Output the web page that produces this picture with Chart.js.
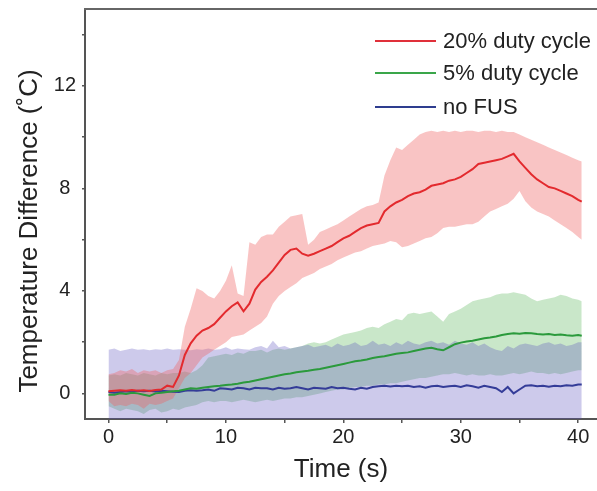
<!DOCTYPE html>
<html>
<head>
<meta charset="utf-8">
<script src="https://cdn.jsdelivr.net/npm/chart.js@4.4.1/dist/chart.umd.min.js"></script>
<style>
  html, body { margin: 0; padding: 0; background: #fff; }
  #wrap { position: relative; width: 597px; height: 491px; }
  .legend-row {
    position: absolute; left: 375px; height: 24px;
    display: flex; align-items: center;
    font: 22px "Liberation Sans", Arial, sans-serif; color: #222; white-space: nowrap;
  }
  .legend-row .swatch { display: inline-block; width: 61px; height: 2px; margin-right: 7px; }
</style>
</head>
<body>
<div id="wrap">
  <canvas id="chart" width="597" height="491"></canvas>
  <div class="legend-row" style="top:29px"><span class="swatch" style="background:#e0303a"></span>20% duty cycle</div>
  <div class="legend-row" style="top:61px"><span class="swatch" style="background:#3aa64a"></span>5% duty cycle</div>
  <div class="legend-row" style="top:95px"><span class="swatch" style="background:#2e3d8f"></span>no FUS</div>
</div>
<script>
// time axis (s)
const times = [
  0, 0.5, 1, 1.5, 2, 2.5, 3, 3.5, 4, 4.5,
  5, 5.5, 6, 6.5, 7, 7.5, 8, 8.5, 9, 9.5,
  10, 10.5, 11, 11.5, 12, 12.5, 13, 13.5, 14, 14.5,
  15, 15.5, 16, 16.5, 17, 17.5, 18, 18.5, 19, 19.5,
  20, 20.5, 21, 21.5, 22, 22.5, 23, 23.5, 24, 24.5,
  25, 25.5, 26, 26.5, 27, 27.5, 28, 28.5, 29, 29.5,
  30, 30.5, 31, 31.5, 32, 32.5, 33, 33.5, 34, 34.5,
  35, 35.5, 36, 36.5, 37, 37.5, 38, 38.5, 39, 39.5,
  40, 40.3
];

// 20% duty cycle
const redMean = [
  0.08, 0.1, 0.12, 0.1, 0.13, 0.1, 0.12, 0.09, 0.13, 0.15,
  0.3, 0.25, 0.7, 1.5, 1.95, 2.25, 2.45, 2.55, 2.7, 2.95,
  3.2, 3.4, 3.55, 3.2, 3.5, 4.05, 4.35, 4.55, 4.8, 5.1,
  5.4, 5.6, 5.65, 5.45, 5.37, 5.45, 5.55, 5.65, 5.75, 5.9,
  6.05, 6.15, 6.3, 6.45, 6.55, 6.6, 6.65, 7.1, 7.3, 7.45,
  7.55, 7.7, 7.8, 7.85, 7.95, 8.1, 8.15, 8.2, 8.3, 8.35,
  8.45, 8.6, 8.75, 8.95, 9.0, 9.05, 9.1, 9.15, 9.25, 9.35,
  9.05, 8.8, 8.55, 8.35, 8.2, 8.05, 8.0, 7.9, 7.8, 7.7,
  7.55, 7.48
];
const redHi = [
  0.75, 0.8, 0.9, 0.85, 0.95, 0.8, 0.9, 0.85, 0.9, 0.8,
  0.9, 0.95, 1.3, 2.6, 3.3, 4.1, 4.0, 3.8, 3.7, 4.0,
  4.4, 5.0, 3.9, 3.8, 5.9, 5.8, 6.1, 6.2, 6.2, 6.5,
  6.7, 6.9, 6.95, 7.0, 5.8, 6.0, 6.3, 6.4, 6.5, 6.6,
  6.75, 6.9, 7.05, 7.2, 7.3, 7.35, 7.45, 8.5, 9.1, 9.6,
  9.5, 9.7, 9.9, 10.1, 10.2, 10.25, 10.2, 10.25, 10.2, 10.25,
  10.2, 10.25, 10.25, 10.2, 10.25, 10.25, 10.2, 10.25, 10.2, 10.2,
  10.1, 10.0, 9.9, 9.8, 9.7, 9.6, 9.5, 9.4, 9.3, 9.2,
  9.1, 9.05
];
const redLo = [
  -0.3, -0.5, -0.45, -0.5, -0.4, -0.45, -0.6, -0.4, -0.45, -0.4,
  -0.3, -0.2, 0.2, 0.6, 0.8, 1.1, 1.4, 1.55, 1.7, 1.85,
  2.0, 2.2, 2.25, 2.3, 2.45, 2.6, 2.75, 3.0, 3.5, 3.8,
  4.0, 4.15, 4.3, 4.5, 4.6, 4.7, 4.85, 4.95, 5.05, 5.2,
  5.3, 5.4, 5.5, 5.55, 5.65, 5.75, 5.8, 5.85, 5.95, 5.9,
  5.7, 5.75, 5.85, 5.95, 6.05, 6.1, 6.25, 6.45, 6.5, 6.5,
  6.55, 6.6, 6.6, 6.7, 6.9, 7.1, 7.2, 7.3, 7.4, 7.6,
  7.9, 7.5, 7.25, 7.1, 7.0, 6.9, 6.75, 6.6, 6.45, 6.3,
  6.1, 6.0
];

// 5% duty cycle
const greenMean = [
  -0.05, -0.05, 0.0, -0.02, 0.02, 0.0, -0.05, -0.1, 0.0, 0.02,
  0.05, 0.08, 0.1, 0.15, 0.2, 0.18, 0.22, 0.25, 0.28, 0.3,
  0.33, 0.35, 0.38, 0.42, 0.45, 0.5, 0.55, 0.6, 0.65, 0.7,
  0.75, 0.78, 0.82, 0.85, 0.88, 0.92, 0.95, 1.0, 1.05, 1.1,
  1.15, 1.2, 1.25, 1.28, 1.32, 1.38, 1.42, 1.45, 1.5, 1.55,
  1.58, 1.6, 1.65, 1.7, 1.75, 1.78, 1.72, 1.68, 1.8, 1.92,
  1.98, 2.02, 2.05, 2.1, 2.15, 2.18, 2.22, 2.28, 2.32, 2.35,
  2.33, 2.36, 2.35, 2.32, 2.3, 2.32, 2.28, 2.3, 2.27, 2.25,
  2.28, 2.25
];
const greenHi = [
  0.7, 0.75, 0.7, 0.8, 0.75, 0.7, 0.8, 0.75, 0.7, 0.8,
  0.75, 0.8, 0.8, 0.85, 0.8, 0.9, 1.1, 1.4, 1.45, 1.5,
  1.55, 1.5, 1.6, 1.55, 1.65, 1.65, 1.7, 1.6, 1.7, 1.75,
  1.7, 1.75, 1.8, 1.85, 1.95, 2.0, 1.95, 2.0, 2.1, 2.2,
  2.3, 2.35, 2.4, 2.45, 2.55, 2.6, 2.55, 2.7, 2.8, 2.9,
  2.85, 3.1, 3.15, 3.1, 3.15, 3.2, 3.0, 2.8, 3.1, 3.2,
  3.3, 3.45, 3.6, 3.65, 3.7, 3.75, 3.85, 3.9, 3.9, 3.95,
  3.9, 3.85, 3.7, 3.6, 3.65, 3.7, 3.75, 3.85, 3.8, 3.7,
  3.65, 3.6
];
const greenLo = [
  -0.5, -0.6, -0.7, -0.6, -0.65, -0.7, -0.8, -0.65, -0.6, -0.75,
  -0.7, -0.6, -0.65, -0.55, -0.5, -0.45, -0.35, -0.3, -0.35, -0.3,
  -0.3, -0.35, -0.3, -0.25, -0.3, -0.35, -0.3, -0.25, -0.3, -0.25,
  -0.2, -0.2, -0.15, -0.15, -0.1, -0.05, 0.0, 0.05, 0.1, 0.15,
  0.15, 0.2, 0.25, 0.25, 0.3, 0.3, 0.35, 0.35, 0.4, 0.4,
  0.45, 0.5, 0.55, 0.6, 0.6, 0.65, 0.7, 0.75, 0.75, 0.8,
  0.75, 0.7, 0.75, 0.7, 0.7, 0.75, 0.7, 0.7, 0.75, 0.8,
  0.75, 0.8, 0.85, 0.8, 0.8, 0.75, 0.8, 0.75, 0.8, 0.85,
  0.9, 0.9
];

// no FUS
const blueMean = [
  0.05, 0.02, 0.05, 0.08, 0.06, 0.1, 0.08, 0.1, 0.07, 0.1,
  0.08, 0.06, 0.05, 0.1, 0.12, 0.1, 0.12, 0.15, 0.1, 0.2,
  0.18, 0.15, 0.22, 0.2, 0.15, 0.22, 0.2, 0.2, 0.15, 0.22,
  0.18, 0.2, 0.25, 0.2, 0.15, 0.22, 0.2, 0.18, 0.25, 0.2,
  0.22, 0.18, 0.15, 0.22, 0.18, 0.25, 0.28, 0.3, 0.27, 0.3,
  0.28, 0.3, 0.25, 0.28, 0.22, 0.28, 0.3, 0.25, 0.28, 0.3,
  0.25, 0.32, 0.28, 0.22, 0.3, 0.25, 0.2, 0.05, 0.25, 0.0,
  0.15, 0.3, 0.32, 0.28, 0.3, 0.26, 0.3, 0.28, 0.32, 0.3,
  0.35, 0.35
];
const blueHi = [
  1.7, 1.75, 1.65, 1.7, 1.75, 1.7, 1.72, 1.68, 1.72, 1.7,
  1.75, 1.7, 1.72, 1.7, 1.68, 1.72, 1.7, 1.75, 1.7, 1.72,
  1.8, 1.7, 1.75, 1.72, 1.7, 1.8, 1.85, 1.75, 2.05, 1.8,
  1.85, 1.75, 1.8, 1.85, 1.9, 1.8, 1.85, 1.9, 1.8, 1.95,
  1.85, 1.9, 2.0, 1.85, 1.9, 2.05, 1.9, 1.95, 1.85, 2.0,
  1.9, 2.05, 1.95, 1.9, 2.0, 2.05, 1.95, 2.0, 1.9, 2.05,
  1.95, 1.9, 2.0, 1.85, 1.95, 1.8, 1.7, 1.65, 1.85, 1.75,
  1.9, 1.95, 1.9, 1.85, 1.95, 2.0, 1.9, 1.95, 1.85, 1.9,
  2.0, 2.0
];
const blueLo = [
  -1.4, -1.5, -1.45, -1.5, -1.4, -1.55, -1.45, -1.5, -1.4, -1.5,
  -1.45, -1.5, -1.4, -1.5, -1.55, -1.45, -1.5, -1.4, -1.5, -1.45,
  -1.5, -1.4, -1.45, -1.5, -1.55, -1.45, -1.4, -1.5, -1.45, -1.5,
  -1.4, -1.5, -1.45, -1.5, -1.4, -1.45, -1.5, -1.4, -1.5, -1.45,
  -1.4, -1.5, -1.45, -1.4, -1.5, -1.45, -1.4, -1.5, -1.45, -1.4,
  -1.35, -1.4, -1.45, -1.35, -1.4, -1.35, -1.45, -1.4, -1.35, -1.4,
  -1.35, -1.4, -1.45, -1.35, -1.4, -1.5, -1.45, -1.4, -1.35, -1.4,
  -1.35, -1.4, -1.35, -1.45, -1.4, -1.35, -1.4, -1.35, -1.4, -1.35,
  -1.3, -1.3
];

// tick marks (every 5 s / every 2 °C) and which of them carry a label
const xTickValues = [0, 5, 10, 15, 20, 25, 30, 35, 40];
const xTickLabels = [0, 10, 20, 30, 40];
const yTickValues = [0, 2, 4, 6, 8, 10, 12, 14];
const yTickLabels = [0, 4, 8, 12];
const xTitle = "Time (s)";
const yTitle = "Temperature Difference (˚C)";

const FONT = '"Liberation Sans", Arial, sans-serif';
Chart.defaults.font.family = FONT;
Chart.defaults.color = "#222";

function meanLine(data, color) {
  return { data, borderColor: color, borderWidth: 2, pointRadius: 0, fill: false, tension: 0 };
}
function bandEdge(data, fillColor) {
  return {
    data,
    borderColor: "transparent",
    borderWidth: 0,
    pointRadius: 0,
    backgroundColor: fillColor || "transparent",
    fill: fillColor ? "+1" : false,
  };
}

// top frame line + y title (title sits a bit below the axis centre in the original)
const frameAndTitle = {
  id: "frameAndTitle",
  afterDraw(chart) {
    const { ctx, chartArea } = chart;
    ctx.save();
    ctx.strokeStyle = "#666";
    ctx.lineWidth = 2;
    ctx.beginPath();
    ctx.moveTo(chartArea.left - 1, chartArea.top);
    ctx.lineTo(chartArea.right, chartArea.top);
    ctx.stroke();

    ctx.translate(37, 231);
    ctx.rotate(-Math.PI / 2);
    ctx.font = "26px " + FONT;
    ctx.fillStyle = "#222";
    ctx.textAlign = "center";
    ctx.textBaseline = "alphabetic";
    ctx.fillText(yTitle, 0, 0);
    ctx.restore();
  },
};

new Chart(document.getElementById("chart"), {
  type: "line",
  data: {
    labels: times,
    datasets: [
      meanLine(redMean, "#e32a2e"),
      meanLine(greenMean, "#2b9a3c"),
      meanLine(blueMean, "#343c98"),
      bandEdge(redHi, "rgba(240,100,100,0.38)"),
      bandEdge(redLo),
      bandEdge(blueHi, "rgba(90,80,190,0.30)"),
      bandEdge(blueLo),
      bandEdge(greenHi, "rgba(60,170,60,0.28)"),
      bandEdge(greenLo),
    ],
  },
  plugins: [frameAndTitle],
  options: {
    responsive: false,
    animation: false,
    devicePixelRatio: 1,
    layout: { padding: { top: 9, right: 0, left: 0, bottom: 0 } },
    plugins: {
      legend: { display: false },
      tooltip: { enabled: false },
    },
    scales: {
      x: {
        type: "linear",
        min: -2,
        max: 41.6,
        afterBuildTicks(axis) {
          axis.ticks = xTickValues.map((value) => ({ value }));
        },
        afterFit(axis) {
          axis.height = 72;
          axis.paddingLeft = 0;
          axis.paddingRight = 0;
        },
        ticks: {
          padding: 2,
          maxRotation: 0,
          autoSkip: false,
          font: { size: 20 },
          color: "#222",
          callback: (v) => (xTickLabels.includes(v) ? String(v) : ""),
        },
        grid: { drawOnChartArea: false, drawTicks: true, tickLength: 4, color: "#555", lineWidth: 1.5 },
        border: { display: true, color: "#555", width: 2 },
        title: { display: true, text: xTitle, font: { size: 26 }, color: "#222", padding: { top: 0, bottom: 6 } },
      },
      y: {
        min: -1,
        max: 15,
        afterBuildTicks(axis) {
          axis.ticks = yTickValues.map((value) => ({ value }));
        },
        afterFit(axis) {
          axis.width = 85;
          // empty minor labels still reserve half a line; drop that
          axis.paddingTop = 0;
          axis.paddingBottom = 0;
        },
        ticks: {
          padding: 6,
          crossAlign: "center",
          autoSkip: false,
          font: { size: 20 },
          color: "#222",
          callback: (v) => (yTickLabels.includes(v) ? String(v) : ""),
        },
        grid: { drawOnChartArea: false, drawTicks: true, tickLength: 3, color: "#555", lineWidth: 1.5 },
        border: { display: true, color: "#555", width: 2 },
      },
    },
  },
});
</script>
</body>
</html>
